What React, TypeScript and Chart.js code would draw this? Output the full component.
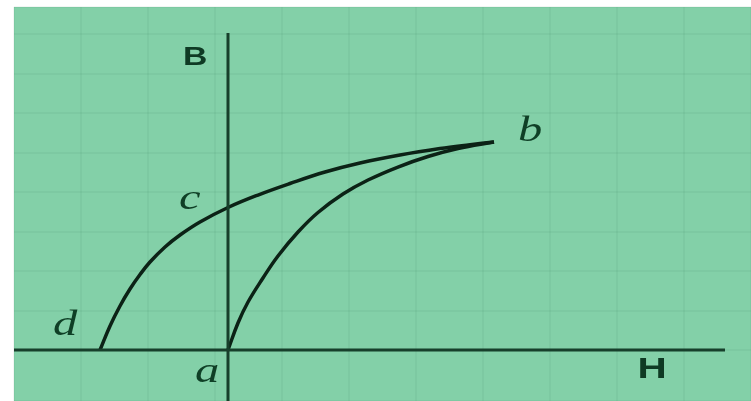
import React, { useEffect, useRef } from "react";
import { Chart, registerables } from "chart.js";

Chart.register(...registerables);

// Initial magnetisation curve a -> b
const lowerH = [0, 0.149, 0.299, 0.522, 0.746, 1.045, 1.343, 1.716, 2.09, 2.537, 2.985, 3.433, 3.97];
const lowerB = [0, 0.684, 1.215, 1.823, 2.38, 2.987, 3.481, 3.949, 4.304, 4.633, 4.899, 5.101, 5.266];

// Return curve d -> c -> b (listed with increasing H)
const upperH = [-1.91, -1.761, -1.612, -1.463, -1.313, -1.164, -0.94, -0.716, -0.418, 0, 0.448, 0.925, 1.448, 1.97, 2.567, 3.164, 3.612, 3.97];
const upperB = [0, 0.608, 1.114, 1.544, 1.911, 2.228, 2.608, 2.911, 3.241, 3.608, 3.924, 4.215, 4.506, 4.734, 4.937, 5.101, 5.197, 5.266];

// Axes
const hAxisH = [-3.2, 7.418];
const hAxisB = [0, 0];
const bAxisH = [0, 0];
const bAxisB = [-1.3, 8.025];

// Text labels
const labelText = ["B", "H", "a", "b", "c", "d"];
const labelH = [-0.49, 6.33, -0.31, 4.51, -0.57, -2.43];
const labelB = [7.39, -0.5, -0.56, 5.52, 3.8, 0.62];
const labelKind = ["axis", "axis", "pt", "pt", "pt", "pt"];

const xMin = -3.194;
const xMax = 7.806;
const yMin = -1.291;
const yMax = 8.684;

const toPts = (xs: number[], ys: number[]) => xs.map((x, i) => ({ x, y: ys[i] }));

export default function App() {
  const ref = useRef<HTMLCanvasElement | null>(null);

  useEffect(() => {
    if (!ref.current) return;
    const bgPlugin = {
      id: "bg",
      beforeDraw(chart: any) {
        const { ctx, chartArea } = chart;
        ctx.save();
        ctx.fillStyle = "rgb(131,208,168)";
        ctx.fillRect(chartArea.left, chartArea.top, chartArea.right - chartArea.left, chartArea.bottom - chartArea.top);
        ctx.restore();
      },
    };
    const labelPlugin = {
      id: "labels",
      afterDatasetsDraw(chart: any) {
        const { ctx, scales } = chart;
        ctx.save();
        labelText.forEach((t, i) => {
          const px = scales.x.getPixelForValue(labelH[i]);
          const py = scales.y.getPixelForValue(labelB[i]);
          ctx.save();
          ctx.translate(px, py);
          ctx.scale(1.35, 1);
          if (labelKind[i] === "axis") {
            ctx.font = i === 0 ? "bold 25px 'Liberation Sans', Arial, sans-serif" : "bold 30px 'Liberation Sans', Arial, sans-serif";
            ctx.fillStyle = "#0f3a24";
          } else {
            ctx.font = "italic 36px 'Liberation Serif', 'Times New Roman', serif";
            ctx.fillStyle = "#0f3f26";
          }
          ctx.textAlign = "center";
          ctx.textBaseline = "middle";
          ctx.fillText(t, 0, 0);
          ctx.restore();
        });
        ctx.restore();
      },
    };
    const chart = new Chart(ref.current, {
      type: "scatter",
      data: {
        datasets: [
          {
            data: toPts(hAxisH, hAxisB),
            showLine: true,
            borderColor: "#173f2b",
            borderWidth: 3,
            pointRadius: 0,
          },
          {
            data: toPts(bAxisH, bAxisB),
            showLine: true,
            borderColor: "#173f2b",
            borderWidth: 3,
            pointRadius: 0,
          },
          {
            data: toPts(lowerH, lowerB),
            showLine: true,
            borderColor: "#0c2216",
            borderWidth: 3.5,
            pointRadius: 0,
            tension: 0.4,
          },
          {
            data: toPts(upperH, upperB),
            showLine: true,
            borderColor: "#0c2216",
            borderWidth: 3.5,
            pointRadius: 0,
            tension: 0.4,
          },
        ],
      },
      options: {
        animation: false,
        responsive: false,
        maintainAspectRatio: false,
        layout: { padding: { left: 14, top: 7, right: 0, bottom: 0 } },
        plugins: { legend: { display: false }, tooltip: { enabled: false } },
        scales: {
          x: {
            type: "linear",
            min: xMin,
            max: xMax,
            ticks: { display: false, stepSize: 1 },
            grid: { color: "rgba(40,110,70,0.06)", lineWidth: 2, drawTicks: false },
            border: { display: false },
          },
          y: {
            type: "linear",
            min: yMin,
            max: yMax,
            ticks: { display: false, stepSize: 1 },
            grid: { color: "rgba(40,110,70,0.06)", lineWidth: 2, drawTicks: false },
            border: { display: false },
          },
        },
      },
      plugins: [bgPlugin, labelPlugin],
    } as any);
    return () => chart.destroy();
  }, []);

  return (
    <div style={{ position: "fixed", left: 0, top: 0, width: 751, height: 401, background: "#fff" }}>
      <canvas ref={ref} width={751} height={401} style={{ display: "block" }} />
    </div>
  );
}
